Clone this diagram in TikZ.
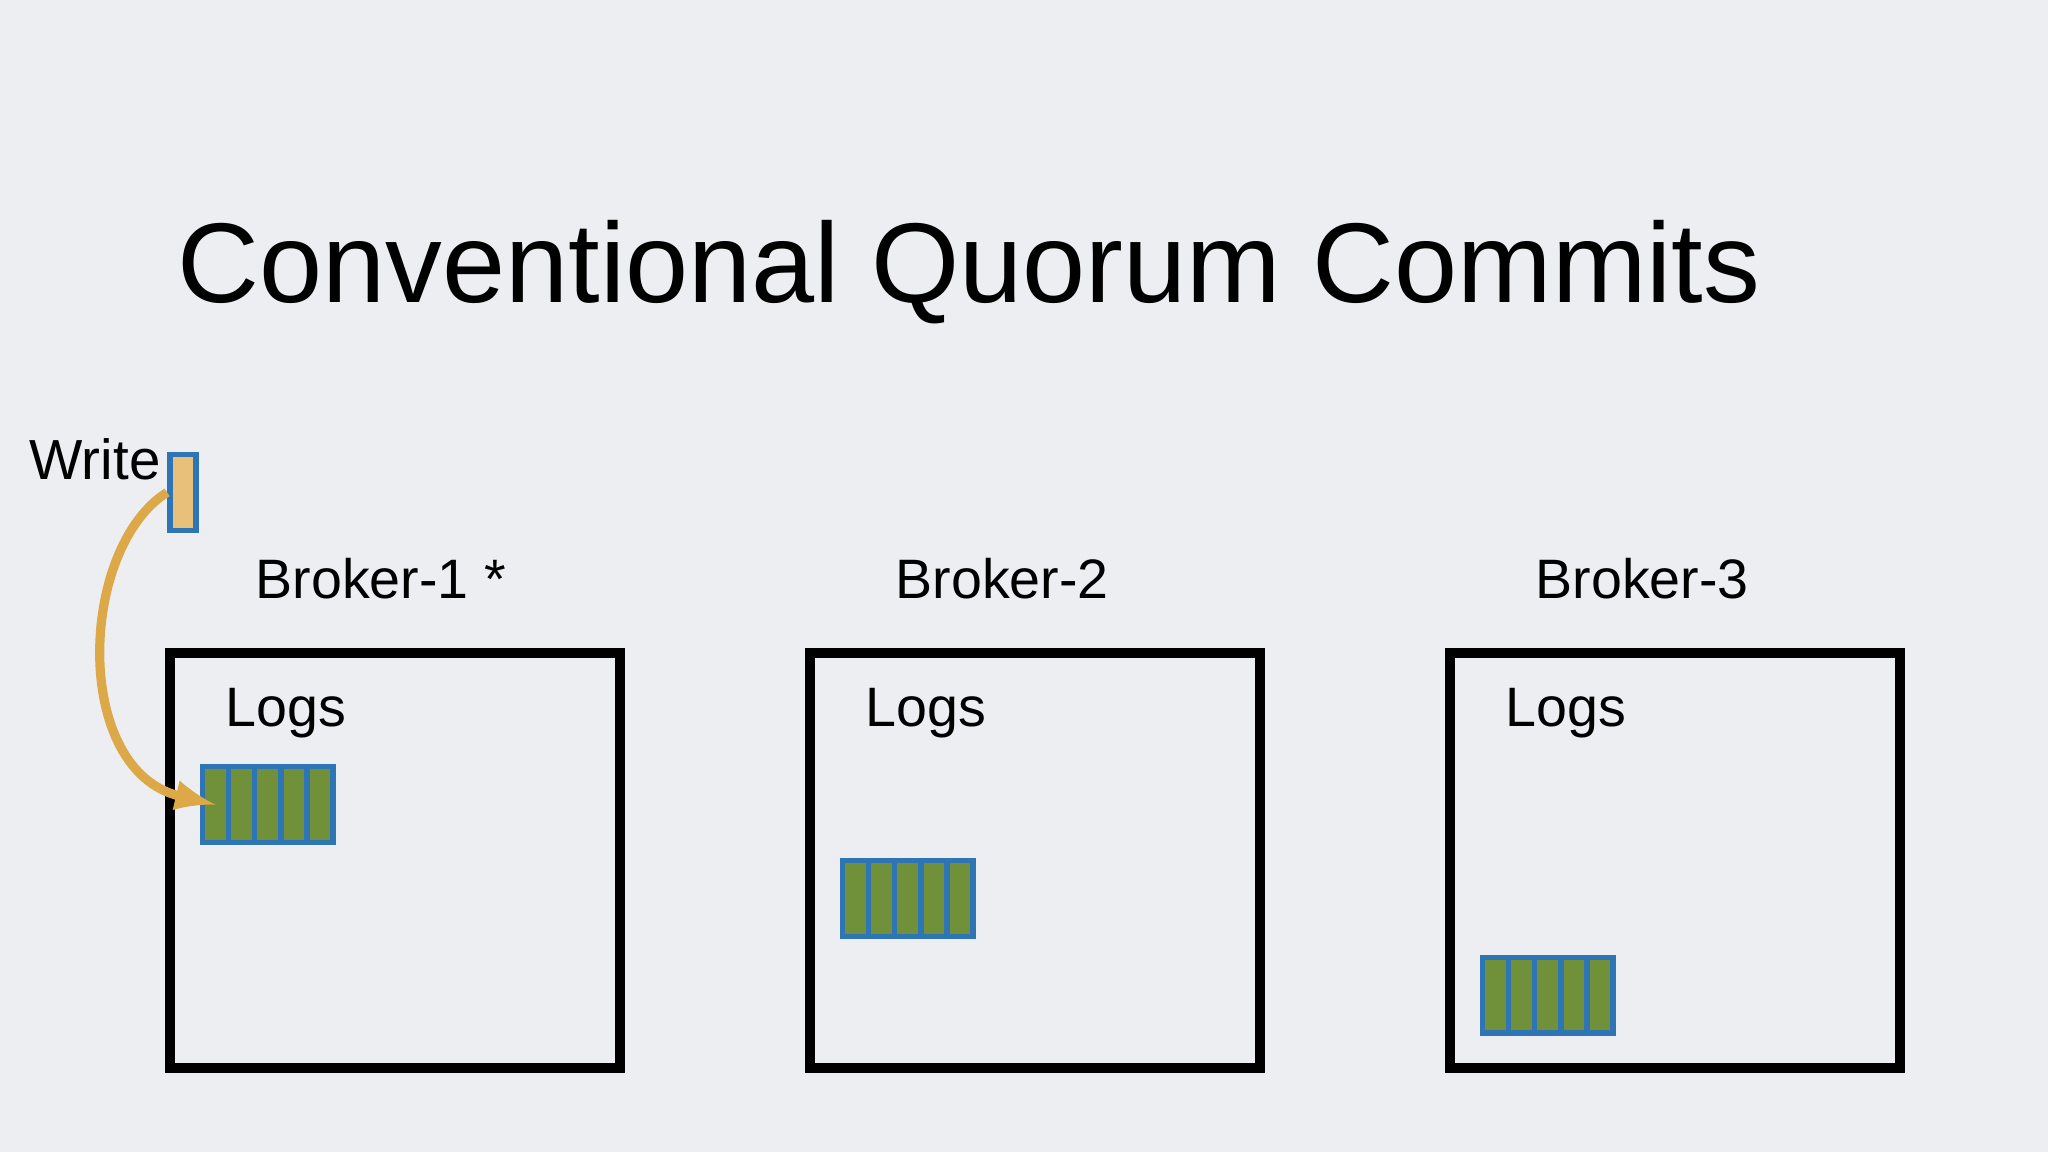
\documentclass[tikz,border=0pt]{standalone}
\usepackage{fontspec}
\setmainfont{Liberation Sans}
\definecolor{bg}{HTML}{ECEEF2}
\definecolor{tan}{HTML}{E8C07A}
\definecolor{bblue}{HTML}{2E75B6}
\definecolor{lgreen}{HTML}{71903A}
\definecolor{arr}{HTML}{DDA848}
\tikzset{
  broker/.style={draw=black,line width=2.2pt},
  lbl/.style={font=\fontsize{12.1}{13}\selectfont,anchor=west,inner sep=0},
  cell/.style={draw=bblue,fill=lgreen,line width=1.2pt}
}
\newcommand{\logblock}[3]{%
  \foreach \i in {0,...,4}{\draw[cell] ({#1+\i*20},#2) rectangle ++(20,58);}
  \coordinate (#3) at (#1,#2+29);}
\begin{document}
\begin{tikzpicture}[x=0.01cm,y=-0.01cm]
\fill[bg] (0,0) rectangle (1568,882);
\useasboundingbox (0,0) rectangle (1568,882);
\node[inner sep=0,font=\fontsize{24.7}{30}\selectfont] (title) at (742,208) {Conventional Quorum Commits};
\node[lbl,font=\fontsize{12.3}{14}\selectfont] (write) at (22,352) {Write};
\node[draw=bblue,fill=tan,line width=1.2pt,inner sep=0,minimum width=0.2cm,minimum height=0.58cm] (wr) at (140,377) {};
\foreach \n/\x/\t in {1/130/Broker-1 *,2/620/Broker-2,3/1110/Broker-3}{
  \draw[broker] (\x,500) rectangle (\x+345,818);
  \node[lbl] (b\n) at (\x+65,443) {\t};
  \node[lbl] (l\n) at (\x+42,546) {Logs};
}
\logblock{155}{587}{lb1}
\logblock{645}{659}{lb2}
\logblock{1135}{733}{lb3}
\draw[arr,line width=2pt,-latex] (wr.west) .. controls (60,420) and (55,590) .. ([xshift=0.1cm]lb1);
\end{tikzpicture}
\end{document}
